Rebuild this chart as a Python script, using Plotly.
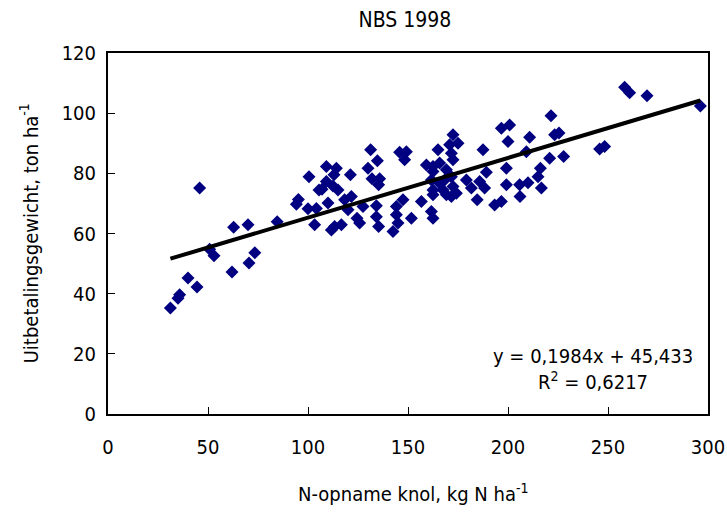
import plotly.graph_objects as go

n_uptake = [31.2, 35.0, 35.8, 40.0, 44.5, 45.8, 50.8, 53.0, 62.0, 62.8, 70.0, 70.5, 73.4, 84.6, 94.2, 95.2,
            100.5, 100.0, 104.2, 103.3, 105.5, 109.2, 114.2, 113.0, 121.2, 109.2, 107.0, 115.0, 112.5, 110.0,
            118.3, 121.7, 120.0, 127.5, 134.2, 134.2, 135.3, 124.5, 125.8, 113.3, 116.7, 111.7, 131.3, 134.7,
            130.0, 132.0, 135.8, 135.3, 145.8, 149.2, 148.3, 144.2, 144.2, 147.5, 145.0, 142.5, 151.7, 156.7,
            161.7, 162.5, 159.2, 162.5, 165.0, 165.8, 161.7, 162.5, 165.8, 170.8, 172.5, 175.0, 172.5, 169.2,
            168.3, 172.5, 169.2, 174.2, 179.2, 181.7, 184.6, 171.7, 187.5, 162.5, 171.7, 167.5, 162.5, 171.7,
            185.8, 188.3, 189.2, 199.2, 199.2, 193.3, 196.7, 206.0, 196.7, 200.8, 200.0, 221.5, 210.8, 223.3,
            225.5, 209.2, 220.8, 227.8, 245.8, 248.3, 216.2, 215.0, 205.8, 210.0, 216.7, 258.3, 260.8, 269.5,
            296.2]
yield_t = [35.2, 38.5, 39.6, 45.2, 42.2, 75.1, 54.8, 52.6, 47.2, 62.1, 62.9, 50.2, 53.6, 63.9, 69.7, 71.3,
           78.9, 68.2, 68.3, 62.9, 74.5, 82.3, 81.7, 79.5, 79.5, 77.3, 74.7, 74.5, 75.8, 70.1,
           71.2, 72.3, 67.9, 69.0, 69.2, 65.6, 62.3, 65.1, 63.5, 62.3, 62.9, 61.2, 87.8, 84.2,
           81.7, 78.2, 78.2, 76.2, 87.0, 87.2, 84.5, 69.0, 66.2, 71.2, 63.5, 60.7, 65.1, 70.6,
           67.3, 65.1, 82.8, 80.6, 87.8, 83.4, 77.8, 74.5, 76.7, 89.5, 92.8, 90.0, 84.5, 81.2,
           77.8, 75.6, 72.9, 73.4, 77.8, 75.1, 71.2, 86.7, 87.8, 82.3, 78.9, 74.5, 72.9, 72.3,
           77.3, 75.1, 80.4, 81.7, 76.2, 69.5, 70.6, 72.3, 95.0, 96.1, 90.6, 99.1, 92.0, 92.8,
           93.4, 87.2, 85.0, 85.6, 88.1, 88.9, 81.7, 78.9, 76.2, 76.9, 75.1, 108.6, 106.8, 105.8,
           102.4]

slope = 0.1984
intercept = 45.433
trend_x = [min(n_uptake), max(n_uptake)]
trend_y = [slope * v + intercept for v in trend_x]

x_ticks = [0, 50, 100, 150, 200, 250, 300]
y_ticks = [0, 20, 40, 60, 80, 100, 120]

FONT = "Liberation Sans Narrow, DejaVu Sans Condensed, Arial Narrow, sans-serif"
FS = 20

fig = go.Figure()
fig.add_trace(go.Scatter(x=n_uptake, y=yield_t, mode="markers",
                         marker=dict(symbol="diamond", size=10, color="#000080",
                                     line=dict(width=0)),
                         showlegend=False, hoverinfo="x+y"))
fig.add_trace(go.Scatter(x=trend_x, y=trend_y, mode="lines",
                         line=dict(color="black", width=4), showlegend=False))

fig.update_layout(
    width=727, height=512,
    margin=dict(l=108, r=19, t=53, b=98, autoexpand=False),
    paper_bgcolor="white", plot_bgcolor="white",
    font=dict(family=FONT, size=FS, color="black"),
    title=dict(text="NBS 1998", x=0.557, xanchor="center", y=0.962, yanchor="middle",
               font=dict(family=FONT, size=21, color="black")),
    xaxis=dict(range=[0, 300], tickvals=x_ticks, showgrid=False, zeroline=False,
               automargin=False,
               showline=True, linecolor="black", linewidth=2, mirror=True,
               ticks="inside", ticklen=7, tickwidth=1, tickcolor="black",
               ticklabelstandoff=14,
               tickfont=dict(family=FONT, size=FS)),
    yaxis=dict(range=[0, 120], tickvals=y_ticks, showgrid=False, zeroline=False,
               automargin=False,
               showline=True, linecolor="black", linewidth=2, mirror=True,
               ticks="inside", ticklen=7, tickwidth=1, tickcolor="black",
               ticklabelstandoff=6,
               tickfont=dict(family=FONT, size=FS)),
    annotations=[
        dict(text="y = 0,1984x + 45,433<br>R<sup>2</sup> = 0,6217",
             x=242.4, y=14.9, xref="x", yref="y", showarrow=False,
             align="center", xanchor="center", yanchor="middle",
             font=dict(family=FONT, size=FS, color="black")),
        dict(text="N-opname knol, kg N ha<sup>-1</sup>",
             x=0.508, y=-0.218, xref="paper", yref="paper", showarrow=False,
             xanchor="center", yanchor="middle",
             font=dict(family=FONT, size=FS, color="black")),
        dict(text="Uitbetalingsgewicht, ton ha<sup>-1</sup>",
             x=-0.132, y=0.5, xref="paper", yref="paper", showarrow=False,
             textangle=-90, xanchor="center", yanchor="middle",
             font=dict(family=FONT, size=FS, color="black")),
    ],
)

fig.write_html("out.html")
